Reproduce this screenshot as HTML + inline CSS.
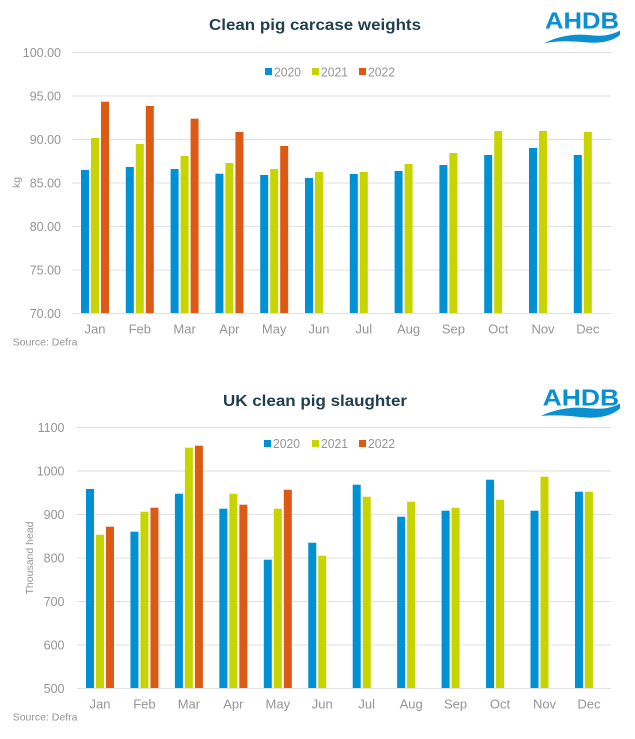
<!DOCTYPE html>
<html><head><meta charset="utf-8"><style>
html,body{margin:0;padding:0;background:#fff;}
svg{display:block;}
text{font-family:"Liberation Sans",Arial,sans-serif;}
</style></head><body>
<svg width="635" height="739" viewBox="0 0 635 739" xmlns="http://www.w3.org/2000/svg">
<rect width="635" height="739" fill="#fff"/>
<!-- TOP CHART -->
<text x="315" y="30" text-anchor="middle" font-size="16" font-weight="bold" fill="#1e3f4f" textLength="212" lengthAdjust="spacingAndGlyphs">Clean pig carcase weights</text>
<!-- logo top -->
<text x="545" y="28.5" font-size="23" font-weight="bold" fill="#0a8fd0" textLength="74" lengthAdjust="spacingAndGlyphs">AHDB</text>
<path d="M544,43.5 C556,37 572,33.5 588,35 C600,36.5 610,36 620,30.5 L620,35 C612,41.5 600,43.5 588,42.5 C572,41 558,40.5 544,43.5 Z" fill="#0a8fd0"/>
<!-- gridlines -->
<g stroke="#e1e1e1" stroke-width="1">
<line x1="72" x2="611" y1="52.5" y2="52.5"/>
<line x1="72" x2="611" y1="96" y2="96"/>
<line x1="72" x2="611" y1="139.5" y2="139.5"/>
<line x1="72" x2="611" y1="183" y2="183"/>
<line x1="72" x2="611" y1="226.5" y2="226.5"/>
<line x1="72" x2="611" y1="270" y2="270"/>
<line x1="72" x2="611" y1="313.5" y2="313.5"/>
</g>
<g font-size="12.5" fill="#959595" text-anchor="end">
<text x="61" y="57">100.00</text>
<text x="61" y="100.5">95.00</text>
<text x="61" y="144">90.00</text>
<text x="61" y="187.5">85.00</text>
<text x="61" y="231">80.00</text>
<text x="61" y="274.5">75.00</text>
<text x="61" y="318">70.00</text>
</g>
<text transform="translate(20,182.5) rotate(-90)" text-anchor="middle" font-size="10.5" fill="#959595">kg</text>
<!-- legend top -->
<rect x="265" y="68" width="7" height="7" fill="#0090d4"/>
<text x="274" y="76.5" font-size="13" fill="#959595" textLength="27" lengthAdjust="spacingAndGlyphs">2020</text>
<rect x="312" y="68" width="7" height="7" fill="#c8d400"/>
<text x="321" y="76.5" font-size="13" fill="#959595" textLength="27" lengthAdjust="spacingAndGlyphs">2021</text>
<rect x="359" y="68" width="7" height="7" fill="#dd5a14"/>
<text x="368" y="76.5" font-size="13" fill="#959595" textLength="27" lengthAdjust="spacingAndGlyphs">2022</text>
<!-- bars top: centers 95 + i*44.8 -->
<g fill="#0090d4">
<rect x="81" y="170" width="8" height="143"/>
<rect x="125.8" y="167" width="8" height="146"/>
<rect x="170.6" y="169" width="8" height="144"/>
<rect x="215.4" y="173.7" width="8" height="139.3"/>
<rect x="260.2" y="175" width="8" height="138"/>
<rect x="305" y="178" width="8" height="135"/>
<rect x="349.8" y="174" width="8" height="139"/>
<rect x="394.6" y="171" width="8" height="142"/>
<rect x="439.4" y="165" width="8" height="148"/>
<rect x="484.2" y="155" width="8" height="158"/>
<rect x="529" y="148" width="8" height="165"/>
<rect x="573.8" y="155" width="8" height="158"/>
</g>
<g fill="#c8d400">
<rect x="91" y="138" width="8" height="175"/>
<rect x="135.8" y="144" width="8" height="169"/>
<rect x="180.6" y="156" width="8" height="157"/>
<rect x="225.4" y="163" width="8" height="150"/>
<rect x="270.2" y="169" width="8" height="144"/>
<rect x="315" y="172" width="8" height="141"/>
<rect x="359.8" y="172" width="8" height="141"/>
<rect x="404.6" y="164" width="8" height="149"/>
<rect x="449.4" y="153" width="8" height="160"/>
<rect x="494.2" y="131" width="8" height="182"/>
<rect x="539" y="131" width="8" height="182"/>
<rect x="583.8" y="132" width="8" height="181"/>
</g>
<g fill="#dd5a14">
<rect x="101" y="101.7" width="8" height="211.3"/>
<rect x="145.8" y="106" width="8" height="207"/>
<rect x="190.6" y="118.7" width="8" height="194.3"/>
<rect x="235.4" y="132" width="8" height="181"/>
<rect x="280.2" y="146" width="8" height="167"/>
</g>
<g font-size="13" fill="#959595" text-anchor="middle">
<text x="95" y="333.5">Jan</text>
<text x="139.8" y="333.5">Feb</text>
<text x="184.6" y="333.5">Mar</text>
<text x="229.4" y="333.5">Apr</text>
<text x="274.2" y="333.5">May</text>
<text x="319" y="333.5">Jun</text>
<text x="363.8" y="333.5">Jul</text>
<text x="408.6" y="333.5">Aug</text>
<text x="453.4" y="333.5">Sep</text>
<text x="498.2" y="333.5">Oct</text>
<text x="543" y="333.5">Nov</text>
<text x="587.8" y="333.5">Dec</text>
</g>
<text x="12.7" y="345.7" font-size="10.5" fill="#959595">Source: Defra</text>

<!-- BOTTOM CHART -->
<text x="315" y="406" text-anchor="middle" font-size="16" font-weight="bold" fill="#1e3f4f" textLength="184" lengthAdjust="spacingAndGlyphs">UK clean pig slaughter</text>
<text x="542.7" y="405.7" font-size="23.5" font-weight="bold" fill="#0a8fd0" textLength="76.5" lengthAdjust="spacingAndGlyphs">AHDB</text>
<path d="M541,416 C553,410 570,406.5 586,408 C600,409.5 610,409 620,403.5 L620,408.5 C612,415.5 600,418.5 586,417.5 C570,416 556,414.5 541,416 Z" fill="#0a8fd0"/>
<g stroke="#e1e1e1" stroke-width="1">
<line x1="77" x2="611" y1="427.5" y2="427.5"/>
<line x1="77" x2="611" y1="471" y2="471"/>
<line x1="77" x2="611" y1="514.5" y2="514.5"/>
<line x1="77" x2="611" y1="558" y2="558"/>
<line x1="77" x2="611" y1="601.5" y2="601.5"/>
<line x1="77" x2="611" y1="645" y2="645"/>
<line x1="77" x2="611" y1="688.5" y2="688.5"/>
</g>
<g font-size="12.5" fill="#959595" text-anchor="end">
<text x="64.5" y="432">1100</text>
<text x="64.5" y="475.5">1000</text>
<text x="64.5" y="519">900</text>
<text x="64.5" y="562.5">800</text>
<text x="64.5" y="606">700</text>
<text x="64.5" y="649.5">600</text>
<text x="64.5" y="693">500</text>
</g>
<text transform="translate(33,558) rotate(-90)" text-anchor="middle" font-size="10.5" fill="#959595">Thousand head</text>
<rect x="264" y="440" width="7" height="7" fill="#0090d4"/>
<text x="273" y="448" font-size="13" fill="#959595" textLength="27" lengthAdjust="spacingAndGlyphs">2020</text>
<rect x="312" y="440" width="7" height="7" fill="#c8d400"/>
<text x="321" y="448" font-size="13" fill="#959595" textLength="27" lengthAdjust="spacingAndGlyphs">2021</text>
<rect x="359" y="440" width="7" height="7" fill="#dd5a14"/>
<text x="368" y="448" font-size="13" fill="#959595" textLength="27" lengthAdjust="spacingAndGlyphs">2022</text>
<!-- bars bottom: centers 100 + i*44.45 -->
<g fill="#0090d4">
<rect x="86" y="489" width="8" height="199"/>
<rect x="130.45" y="531.7" width="8" height="156.3"/>
<rect x="174.9" y="493.7" width="8" height="194.3"/>
<rect x="219.35" y="508.7" width="8" height="179.3"/>
<rect x="263.8" y="559.7" width="8" height="128.3"/>
<rect x="308.25" y="542.7" width="8" height="145.3"/>
<rect x="352.7" y="484.7" width="8" height="203.3"/>
<rect x="397.15" y="516.7" width="8" height="171.3"/>
<rect x="441.6" y="510.7" width="8" height="177.3"/>
<rect x="486.05" y="479.7" width="8" height="208.3"/>
<rect x="530.5" y="510.7" width="8" height="177.3"/>
<rect x="574.95" y="491.7" width="8" height="196.3"/>
</g>
<g fill="#c8d400">
<rect x="96" y="534.7" width="8" height="153.3"/>
<rect x="140.45" y="511.7" width="8" height="176.3"/>
<rect x="184.9" y="447.7" width="8" height="240.3"/>
<rect x="229.35" y="493.7" width="8" height="194.3"/>
<rect x="273.8" y="508.7" width="8" height="179.3"/>
<rect x="318.25" y="555.7" width="8" height="132.3"/>
<rect x="362.7" y="496.7" width="8" height="191.3"/>
<rect x="407.15" y="501.7" width="8" height="186.3"/>
<rect x="451.6" y="507.7" width="8" height="180.3"/>
<rect x="496.05" y="499.7" width="8" height="188.3"/>
<rect x="540.5" y="476.7" width="8" height="211.3"/>
<rect x="584.95" y="491.7" width="8" height="196.3"/>
</g>
<g fill="#dd5a14">
<rect x="106" y="526.7" width="8" height="161.3"/>
<rect x="150.45" y="507.7" width="8" height="180.3"/>
<rect x="194.9" y="445.7" width="8" height="242.3"/>
<rect x="239.35" y="504.7" width="8" height="183.3"/>
<rect x="283.8" y="489.7" width="8" height="198.3"/>
</g>
<g font-size="13" fill="#959595" text-anchor="middle">
<text x="100" y="708.5">Jan</text>
<text x="144.45" y="708.5">Feb</text>
<text x="188.9" y="708.5">Mar</text>
<text x="233.35" y="708.5">Apr</text>
<text x="277.8" y="708.5">May</text>
<text x="322.25" y="708.5">Jun</text>
<text x="366.7" y="708.5">Jul</text>
<text x="411.15" y="708.5">Aug</text>
<text x="455.6" y="708.5">Sep</text>
<text x="500.05" y="708.5">Oct</text>
<text x="544.5" y="708.5">Nov</text>
<text x="588.95" y="708.5">Dec</text>
</g>
<text x="12.7" y="720.7" font-size="10.5" fill="#959595">Source: Defra</text>
</svg>
</body></html>
